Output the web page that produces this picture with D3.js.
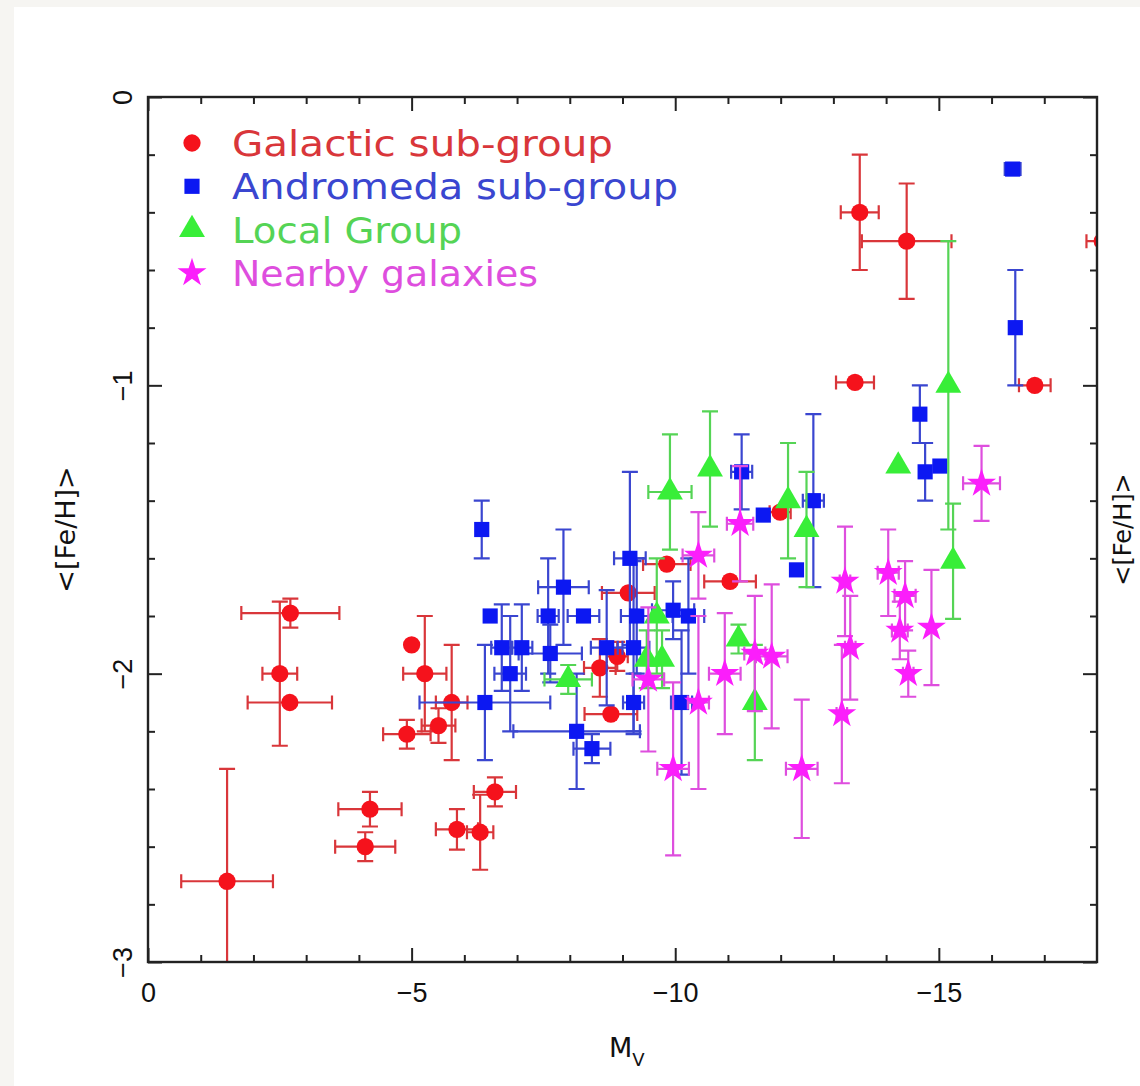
<!DOCTYPE html>
<html>
<head>
<meta charset="utf-8">
<script src="https://cdn.jsdelivr.net/npm/d3@7.9.0/dist/d3.min.js"></script>
<style>
body { margin: 0; background: #f6f5f2; }
svg { display: block; font-family: 'DejaVu Sans', sans-serif; }
</style>
</head>
<body>
<svg id="chart" width="1140" height="1086"></svg>
<script>
// each row: [Mv, <Fe/H>, error in Mv, error in <Fe/H>]
const galactic = [
  [-1.50, -2.72, 0.87, 0.39],
  [-2.70, -1.79, 0.93, 0.05],
  [-2.50, -2.00, 0.33, 0.25],
  [-2.69, -2.10, 0.80, 0.00],
  [-5.00, -1.90, 0.00, 0.00],
  [-5.25, -2.00, 0.41, 0.20],
  [-5.76, -2.10, 0.30, 0.20],
  [-4.91, -2.21, 0.45, 0.05],
  [-5.51, -2.18, 0.32, 0.06],
  [-6.58, -2.41, 0.40, 0.05],
  [-4.21, -2.47, 0.60, 0.06],
  [-4.12, -2.60, 0.57, 0.05],
  [-5.86, -2.54, 0.40, 0.07],
  [-6.30, -2.55, 0.25, 0.13],
  [-8.57, -1.98, 0.30, 0.10],
  [-8.90, -1.94, 0.20, 0.05],
  [-8.78, -2.14, 0.50, 0.00],
  [-9.11, -1.72, 0.50, 0.00],
  [-9.84, -1.62, 0.45, 0.00],
  [-11.04, -1.68, 0.49, 0.00],
  [-11.99, -1.44, 0.20, 0.00],
  [-13.41, -0.99, 0.36, 0.00],
  [-13.50, -0.40, 0.36, 0.20],
  [-14.39, -0.50, 0.85, 0.20],
  [-16.82, -1.00, 0.30, 0.00],
  [-18.10, -0.50, 0.30, 0.00]
];

const andromeda = [
  [-6.33, -1.50, 0.00, 0.10],
  [-6.39, -2.10, 1.24, 0.20],
  [-6.49, -1.80, 0.00, 0.00],
  [-6.71, -1.91, 0.20, 0.15],
  [-6.87, -2.00, 0.30, 0.20],
  [-7.09, -1.91, 0.20, 0.15],
  [-7.59, -1.80, 0.20, 0.20],
  [-7.63, -1.93, 0.60, 0.10],
  [-7.88, -1.70, 0.48, 0.20],
  [-8.13, -2.20, 1.20, 0.20],
  [-8.26, -1.80, 0.30, 0.00],
  [-8.42, -2.26, 0.35, 0.05],
  [-8.70, -1.91, 0.30, 0.20],
  [-9.14, -1.60, 0.30, 0.30],
  [-9.21, -1.91, 0.30, 0.30],
  [-9.21, -2.10, 0.20, 0.10],
  [-9.27, -1.80, 0.30, 0.20],
  [-9.96, -1.78, 0.40, 0.10],
  [-10.12, -2.10, 0.20, 0.25],
  [-10.25, -1.80, 0.30, 0.20],
  [-11.26, -1.30, 0.20, 0.13],
  [-11.67, -1.45, 0.00, 0.00],
  [-12.30, -1.64, 0.00, 0.00],
  [-12.62, -1.40, 0.20, 0.30],
  [-14.64, -1.10, 0.00, 0.10],
  [-14.74, -1.30, 0.00, 0.10],
  [-15.02, -1.28, 0.10, 0.00],
  [-16.40, -0.25, 0.15, 0.00],
  [-16.45, -0.80, 0.00, 0.20]
];

const localGroup = [
  [-7.97, -2.02, 0.45, 0.05],
  [-9.46, -1.95, 0.00, 0.10],
  [-9.65, -1.80, 0.00, 0.20],
  [-9.75, -1.95, 0.00, 0.10],
  [-9.90, -1.37, 0.41, 0.20],
  [-10.66, -1.29, 0.00, 0.20],
  [-11.20, -1.88, 0.00, 0.05],
  [-11.51, -2.10, 0.00, 0.20],
  [-12.14, -1.40, 0.00, 0.20],
  [-12.49, -1.50, 0.00, 0.20],
  [-14.23, -1.28, 0.00, 0.00],
  [-15.18, -1.00, 0.00, 0.50],
  [-15.27, -1.61, 0.00, 0.20]
];

const nearby = [
  [-9.49, -2.02, 0.30, 0.25],
  [-9.96, -2.33, 0.30, 0.30],
  [-10.44, -1.59, 0.30, 0.15],
  [-10.44, -2.10, 0.20, 0.30],
  [-10.94, -2.00, 0.30, 0.21],
  [-11.23, -1.48, 0.25, 0.20],
  [-11.51, -1.93, 0.20, 0.20],
  [-11.83, -1.94, 0.30, 0.25],
  [-12.40, -2.33, 0.30, 0.24],
  [-13.16, -2.14, 0.10, 0.24],
  [-13.22, -1.68, 0.10, 0.19],
  [-13.32, -1.91, 0.10, 0.18],
  [-14.04, -1.65, 0.20, 0.15],
  [-14.26, -1.85, 0.15, 0.10],
  [-14.36, -1.73, 0.20, 0.12],
  [-14.42, -2.00, 0.10, 0.08],
  [-14.86, -1.84, 0.00, 0.20],
  [-15.81, -1.34, 0.35, 0.13]
];

const legendLabels = ['Galactic sub-group', 'Andromeda sub-group', 'Local Group', 'Nearby galaxies'];
const xMajor = [0, -5, -10, -15];
const yMajor = [0, -1, -2, -3];

const groups = [
  { rows: galactic, color: '#f5121c', bar: '#d9363a', symbol: d3.symbolCircle, size: 235, textLen: 381 },
  { rows: andromeda, color: '#0c18f2', bar: '#3a46d0', symbol: d3.symbolSquare, size: 230, textLen: 446 },
  { rows: localGroup, color: '#38ee38', bar: '#55d455', symbol: d3.symbolTriangle, size: 290, textLen: 230 },
  { rows: nearby, color: '#fb1efb', bar: '#de4ede', symbol: d3.symbolStar, size: 260, textLen: 306 }
];
groups.forEach((g, i) => g.label = legendLabels[i]);

const svg = d3.select('#chart');
const plotLeft = 148, plotRight = 1097, plotTop = 97, plotBottom = 962;

let x = d3.scaleLinear().domain([0, -18]).range([plotLeft, plotRight]);
let y = d3.scaleLinear().domain([0, -3]).range([plotTop, plotBottom]);

// page background
svg.append('rect').attr('x', 14).attr('y', 7).attr('width', 1140).attr('height', 1086).attr('fill', '#ffffff');

svg.append('clipPath').attr('id', 'plotclip')
  .append('rect').attr('x', plotLeft).attr('y', plotTop)
  .attr('width', plotRight - plotLeft).attr('height', plotBottom - plotTop);

// points with error bars
const plot = svg.append('g').attr('clip-path', 'url(#plotclip)');
groups.forEach((g) => {
  const layer = plot.append('g');
  g.rows.forEach(([mv, feh, emv, efeh]) => {
    const px = x(mv), py = y(feh);
    if (emv > 0) {
      const x1 = x(mv + emv), x2 = x(mv - emv);
      layer.append('path')
        .attr('d', `M${x1},${py}H${x2}M${x1},${py - 7}V${py + 7}M${x2},${py - 7}V${py + 7}`)
        .attr('stroke', g.bar).attr('stroke-width', 2.2).attr('fill', 'none');
    }
    if (efeh > 0) {
      const y1 = y(feh + efeh), y2 = y(feh - efeh);
      layer.append('path')
        .attr('d', `M${px},${y1}V${y2}M${px - 8},${y1}H${px + 8}M${px - 8},${y2}H${px + 8}`)
        .attr('stroke', g.bar).attr('stroke-width', 2.2).attr('fill', 'none');
    }
  });
  layer.selectAll('.pt')
    .data(g.rows)
    .join('path')
    .attr('class', 'pt')
    .attr('transform', (d) => `translate(${x(d[0])},${y(d[1])})`)
    .attr('d', d3.symbol().type(g.symbol).size(g.size))
    .attr('fill', g.color);
});

// axes: inward ticks on all four sides
const xMinor = d3.range(1, 18).map((i) => -i).filter((v) => v % 5 !== 0);
const yMinor = d3.range(1, 15).map((i) => -i * 0.2).filter((_, i) => (i + 1) % 5 !== 0);
const axisColor = '#222';

function styleAxis(sel) {
  sel.select('.domain').remove();
  sel.selectAll('line').attr('stroke', axisColor).attr('stroke-width', 2);
  sel.selectAll('text').attr('fill', '#111').attr('font-size', 27);
}

svg.append('g').attr('transform', `translate(0,${plotBottom})`)
  .call(d3.axisBottom(x).tickValues(xMinor).tickSize(-7).tickFormat(''))
  .call(styleAxis);
svg.append('g').attr('transform', `translate(0,${plotBottom})`)
  .call(d3.axisBottom(x).tickValues(xMajor).tickSize(-14).tickFormat(d3.format('d')))
  .call(styleAxis)
  .call((g) => g.selectAll('.tick text').attr('y', 40).attr('dy', null));

svg.append('g').attr('transform', `translate(0,${plotTop})`)
  .call(d3.axisTop(x).tickValues(xMinor).tickSize(-7).tickFormat(''))
  .call(styleAxis);
svg.append('g').attr('transform', `translate(0,${plotTop})`)
  .call(d3.axisTop(x).tickValues(xMajor).tickSize(-14).tickFormat(''))
  .call(styleAxis);

svg.append('g').attr('transform', `translate(${plotLeft},0)`)
  .call(d3.axisLeft(y).tickValues(yMinor).tickSize(-7).tickFormat(''))
  .call(styleAxis);
svg.append('g').attr('transform', `translate(${plotLeft},0)`)
  .call(d3.axisLeft(y).tickValues(yMajor).tickSize(-14).tickFormat(d3.format('d')))
  .call(styleAxis)
  .call((g) => g.selectAll('.tick text')
    .attr('x', 0).attr('y', -16).attr('dy', null)
    .attr('text-anchor', 'middle')
    .attr('transform', 'rotate(-90)'));

svg.append('g').attr('transform', `translate(${plotRight},0)`)
  .call(d3.axisRight(y).tickValues(yMinor).tickSize(-7).tickFormat(''))
  .call(styleAxis);
svg.append('g').attr('transform', `translate(${plotRight},0)`)
  .call(d3.axisRight(y).tickValues(yMajor).tickSize(-14).tickFormat(''))
  .call(styleAxis);

svg.append('rect')
  .attr('x', plotLeft).attr('y', plotTop)
  .attr('width', plotRight - plotLeft).attr('height', plotBottom - plotTop)
  .attr('fill', 'none').attr('stroke', axisColor).attr('stroke-width', 2.4);

// axis titles
const xTitle = svg.append('text').attr('x', 609).attr('y', 1057)
  .attr('font-size', 27).attr('fill', '#111').text('M');
xTitle.append('tspan').attr('dy', 9).attr('font-size', 18).text('V');

const midY = (plotTop + plotBottom) / 2;
svg.append('text')
  .attr('transform', `translate(75,${midY}) rotate(-90)`)
  .attr('text-anchor', 'middle').attr('font-size', 27).attr('fill', '#111')
  .text('<[Fe/H]>');

// title of the neighbouring panel, at the page edge
svg.append('text')
  .attr('transform', `translate(1131,${midY}) rotate(-90)`)
  .attr('text-anchor', 'middle').attr('font-size', 24).attr('fill', '#111')
  .text('<[Fe/H]>');

// legend
const legend = svg.append('g');
groups.forEach((g, i) => {
  const cy = 143 + i * 43.3;
  legend.append('path')
    .attr('transform', `translate(192,${cy})`)
    .attr('d', d3.symbol().type(g.symbol).size(g.size))
    .attr('fill', g.color);
  legend.append('text')
    .attr('x', 232).attr('y', cy + 13)
    .attr('font-size', 36)
    .attr('fill', g.bar)
    .attr('textLength', g.textLen)
    .attr('lengthAdjust', 'spacingAndGlyphs')
    .text(g.label);
});
</script>
</body>
</html>
